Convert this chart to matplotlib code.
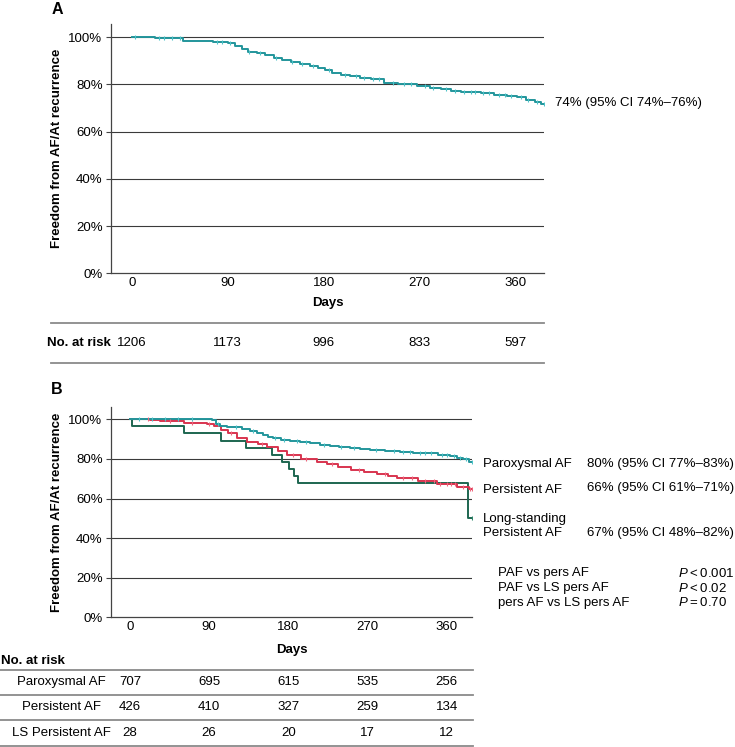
import numpy as np
import matplotlib
matplotlib.use("Agg")
import matplotlib.pyplot as plt
from matplotlib.lines import Line2D
from matplotlib.transforms import blended_transform_factory

plt.rcParams['font.family'] = ['Liberation Sans', 'DejaVu Sans']
plt.rcParams['mathtext.fontset'] = 'custom'
plt.rcParams['mathtext.it'] = 'Liberation Sans:italic'
plt.rcParams['mathtext.rm'] = 'Liberation Sans'

# ---- data ----
tick_days = [0, 90, 180, 270, 360]
y_ticks = [0, 20, 40, 60, 80, 100]

# panel A: overall cohort
a_days = [0, 22, 48, 76, 90, 97, 103, 109, 117, 125, 133, 141, 149, 158, 167, 175,
          181, 188, 196, 205, 214, 224, 237, 250, 268, 280, 290, 300, 309, 328, 340,
          352, 362, 370, 378, 384, 387]
a_surv = [100, 99.6, 98.6, 98.2, 97.7, 96.3, 94.9, 93.9, 93.5, 92.3, 91.1, 90.3, 89.4,
          88.6, 87.8, 87.0, 86.1, 84.7, 84.1, 83.6, 82.9, 82.2, 80.8, 80.4, 79.4, 78.7,
          78.0, 77.4, 76.9, 76.5, 75.5, 75.1, 74.8, 73.4, 72.4, 71.6, 71.6]
a_cens = [3, 25, 30, 38, 45, 80, 85, 92, 110, 120, 135, 150, 160, 170, 185, 200, 210,
          218, 226, 232, 245, 255, 262, 275, 283, 295, 303, 312, 318, 322, 330, 335,
          345, 350, 356, 365, 372, 380, 387]
a_risk = [1206, 1173, 996, 833, 597]
a_note = "74% (95% CI 74%\u201376%)"

# panel B: by AF type
paf_days = [0, 93, 98, 102, 110, 117, 127, 136, 144, 151, 157, 163, 172, 182, 193, 205,
            216, 227, 238, 250, 262, 273, 290, 307, 322, 337, 350, 364, 372, 379, 385, 389]
paf_surv = [100, 99.5, 97.9, 96.6, 96.3, 96.0, 95.2, 94.3, 93.2, 92.1, 91.2, 90.4, 89.8,
            89.2, 88.5, 87.9, 87.2, 86.5, 86.0, 85.4, 84.9, 84.5, 84.0, 83.6, 83.2, 82.8,
            82.2, 81.5, 80.7, 79.8, 78.6, 78.6]
paf_cens = [10, 25, 40, 55, 70, 100, 120, 140, 165, 175, 190, 200, 220, 240, 255, 280,
            300, 310, 318, 330, 335, 342, 355, 360, 368, 375, 382, 389]

pers_days = [0, 23, 34, 61, 88, 95, 103, 111, 122, 133, 145, 156, 168, 179, 194, 213,
             224, 236, 251, 266, 281, 293, 304, 327, 349, 372, 385, 389]
pers_surv = [100, 99.5, 99.1, 98.3, 97.6, 96.6, 94.6, 92.9, 90.4, 88.4, 87.4, 85.9, 84.1,
             82.0, 79.8, 78.6, 77.2, 75.8, 74.4, 73.3, 72.2, 71.2, 70.2, 69.0, 67.3, 66.0,
             65.0, 65.0]
pers_cens = [20, 45, 70, 90, 115, 150, 185, 200, 230, 260, 290, 310, 320, 335, 345, 352,
             360, 365, 370, 378, 386, 389]

ls_days = [0, 2, 61, 104, 132, 161, 173, 181, 186, 191, 384, 389]
ls_surv = [100, 96.4, 92.9, 89.3, 85.7, 82.1, 78.6, 75.0, 71.4, 67.9, 50.0, 50.0]
ls_cens = [389]

b_groups = ["Paroxysmal AF", "Persistent AF", "LS Persistent AF"]
b_labels = ["Paroxysmal AF", "Persistent AF", "Long-standing\nPersistent AF"]
b_notes = ["80% (95% CI 77%\u201383%)", "66% (95% CI 61%\u201371%)", "67% (95% CI 48%\u201382%)"]
b_risk = [[707, 695, 615, 535, 256],
          [426, 410, 327, 259, 134],
          [28, 26, 20, 17, 12]]
comparisons = ["PAF vs pers AF", "PAF vs LS pers AF", "pers AF vs LS pers AF"]
p_values = ["$P$\u2009<\u20090.001", "$P$\u2009<\u20090.02", "$P$\u2009=\u20090.70"]

teal, teal_lt = "#23959b", "#4cc3c8"
red, red_lt = "#d8344f", "#f0647c"
green, green_lt = "#1d6650", "#2f8a6c"

W, H = 735, 747
FS = 9.5


def fx(x):
    return x / W


def fy(y):
    return 1 - y / H


def surv_at(days, surv, t):
    idx = np.searchsorted(days, t, side="right") - 1
    return np.asarray(surv)[idx]


def style_axes(ax, xlim, ylim):
    ax.set_xlim(*xlim)
    ax.set_ylim(*ylim)
    ax.set_yticks(y_ticks)
    ax.set_yticklabels([f"{v}%" for v in y_ticks])
    ax.set_xticks(tick_days)
    ax.set_xticklabels([str(d) for d in tick_days])
    for s in ["top", "right"]:
        ax.spines[s].set_visible(False)
    for s in ["left", "bottom"]:
        ax.spines[s].set_color("#444444")
        ax.spines[s].set_linewidth(0.9)
    ax.tick_params(axis="y", length=3.6, width=0.8, color="#444444", pad=2.5, labelsize=FS)
    ax.tick_params(axis="x", length=0, pad=3, labelsize=FS)
    for v in y_ticks[1:]:
        ax.axhline(v, color="#3a3a3a", lw=0.8, zorder=1)


def km(ax, days, surv, cens, color, mcolor):
    ax.step(days, surv, where="post", color=color, lw=1.4, zorder=3)
    ax.plot(cens, surv_at(days, surv, cens), ls="none", marker="|", ms=3.5,
            mew=0.8, color=mcolor, zorder=4)


fig = plt.figure(figsize=(W / 100, H / 100), dpi=100)

# ---------- panel A ----------
ax_a = fig.add_axes([fx(111), fy(273.3), fx(544) - fx(111), (273.3 - 24.3) / H])
style_axes(ax_a, (-19.7, 386.9), (0, 105.5))
km(ax_a, a_days, a_surv, a_cens, teal, teal_lt)
ax_a.set_ylabel("Freedom from AF/At recurrence", fontsize=FS, fontweight="bold")
ax_a.yaxis.set_label_coords((57 - 111) / 433, 0.5)
ax_a.yaxis.label.set_va("center")
ax_a.text(0.5, -(303.3 - 273.3) / 249, "Days", transform=ax_a.transAxes,
          ha="center", va="center", fontsize=FS, fontweight="bold")
fig.text(fx(57), fy(10), "A", ha="center", va="center", fontsize=11.5, fontweight="bold")
fig.text(fx(555), fy(103.3), a_note, ha="left", va="center", fontsize=FS)

# at-risk table A
for yl in [322.7, 362.7]:
    fig.add_artist(Line2D([fx(50.7), fx(544)], [fy(yl), fy(yl)], color="#8a8a8a", lw=1.3))
fig.text(fx(110.5), fy(342.7), "No. at risk", ha="right", va="center",
         fontsize=FS, fontweight="bold")
tr_a = blended_transform_factory(ax_a.transData, fig.transFigure)
for d, n in zip(tick_days, a_risk):
    fig.text(d, fy(342.7), str(n), transform=tr_a, ha="center", va="center", fontsize=FS)

# ---------- panel B ----------
ax_b = fig.add_axes([fx(111), fy(617.3), fx(472.3) - fx(111), (617.3 - 406.7) / H])
style_axes(ax_b, (-21.6, 389.1), (0, 106.4))
km(ax_b, ls_days, ls_surv, ls_cens, green, green_lt)
km(ax_b, pers_days, pers_surv, pers_cens, red, red_lt)
km(ax_b, paf_days, paf_surv, paf_cens, teal, teal_lt)
ax_b.set_ylabel("Freedom from AF/At recurrence", fontsize=FS, fontweight="bold")
ax_b.yaxis.set_label_coords((57 - 111) / 361.3, 0.5)
ax_b.yaxis.label.set_va("center")
ax_b.text(0.5, -(650 - 617.3) / 210.6, "Days", transform=ax_b.transAxes,
          ha="center", va="center", fontsize=FS, fontweight="bold")
fig.text(fx(57), fy(389.3), "B", ha="center", va="center", fontsize=11.5, fontweight="bold")

label_y = [464, 489.5, 526]
note_y = [464, 488.5, 533.3]
for lab, note, ly, ny in zip(b_labels, b_notes, label_y, note_y):
    fig.text(fx(482.7), fy(ly), lab, ha="left", va="center", fontsize=FS, linespacing=1.15)
    fig.text(fx(586.7), fy(ny), note, ha="left", va="center", fontsize=FS)

for comp, p, yy in zip(comparisons, p_values, [573.3, 588.3, 602.7]):
    fig.text(fx(498.3), fy(yy), comp, ha="left", va="center", fontsize=FS)
    fig.text(fx(678.3), fy(yy), p, ha="left", va="center", fontsize=FS)

# at-risk table B
fig.text(fx(1), fy(661), "No. at risk", ha="left", va="center", fontsize=FS, fontweight="bold")
for yl in [670, 695, 720, 745.7]:
    fig.add_artist(Line2D([0, fx(472.7)], [fy(yl), fy(yl)], color="#8a8a8a", lw=1.3))
tr_b = blended_transform_factory(ax_b.transData, fig.transFigure)
for grp, counts, ry in zip(b_groups, b_risk, [681.7, 707.3, 732.7]):
    fig.text(fx(61), fy(ry), grp, ha="center", va="center", fontsize=FS)
    for d, n in zip(tick_days, counts):
        fig.text(d, fy(ry), str(n), transform=tr_b, ha="center", va="center", fontsize=FS)

fig.savefig("out.png", dpi=100)
